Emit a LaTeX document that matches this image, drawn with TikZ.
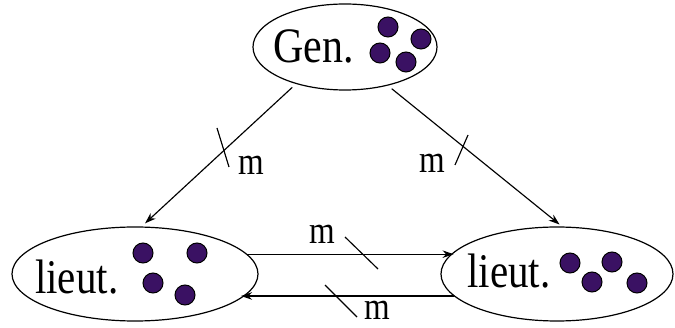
\documentclass[tikz,border=0pt]{standalone}
\usepackage{fontspec}
\setmainfont{Liberation Serif}
\usetikzlibrary{shapes.geometric,arrows.meta}
\definecolor{dotpurple}{HTML}{3A1163}
\tikzset{
  oval/.style={ellipse, draw=black, line width=1.2pt, inner sep=0pt},
  arr/.style={draw=black, line width=1.15pt, -{Stealth[length=11pt,width=7.5pt,inset=3.5pt]}},
  tick/.style={draw=black, line width=1.15pt},
  bigtxt/.style={anchor=base west, inner sep=0pt, font=\fontsize{41}{41}\selectfont},
  gentxt/.style={anchor=base west, inner sep=0pt, font=\fontsize{42}{42}\selectfont},
  mtxt/.style={anchor=base west, inner sep=0pt, font=\fontsize{33}{33}\selectfont},
  dot/.style={fill=dotpurple, draw=black, line width=1pt}
}
\newcommand{\vs}[1]{\scalebox{1}[1.18]{#1}}
\begin{document}
\begin{tikzpicture}[x=1pt,y=-1pt]
\useasboundingbox (0,0) rectangle (675,328);
% ellipses
\node[oval, minimum width=184pt, minimum height=86pt] (gen) at (345,47) {};
\node[oval, minimum width=246pt, minimum height=94pt] (l1) at (135,274) {};
\node[oval, minimum width=232pt, minimum height=94pt] (l2) at (557,274) {};
% texts
\node[gentxt] (tgen) at (273,63) {\vs{Gen.}};
\node[bigtxt] (tl1) at (35,294) {\vs{lieut.}};
\node[bigtxt] (tl2) at (467,288) {\vs{lieut.}};
% dots
\foreach \p in {(388,27),(421,39),(380,53),(406,62)} \draw[dot] \p circle (10);
\foreach \p in {(143,253),(197,253),(153,283),(185,295)} \draw[dot] \p circle (10);
\foreach \p in {(570,263),(612,262),(592,282),(637,283)} \draw[dot] \p circle (10);
% connectors
\draw[arr, shorten <=5pt, shorten >=4.6pt] (gen.217.2) -- (l1.82);
\draw[arr, shorten <=4.9pt, shorten >=3.1pt] (gen.318.7) -- (l2.84.65);
\draw[arr] (l1.10.8) -- (l1.10.8 -| l2.168.56);
\draw[arr] (l2.192.8) -- (l2.192.8 -| l1.347.9);
% ticks
\draw[tick] (217,128) -- (229,167);
\draw[tick] (468,135) -- (455,165);
\draw[tick] (345,237) -- (378,269);
\draw[tick] (325,285) -- (357,317);
% labels
\node[mtxt] (m1) at (238,175) {\vs{m}};
\node[mtxt] (m2) at (419,173) {\vs{m}};
\node[mtxt] (m3) at (309,244) {\vs{m}};
\node[mtxt] (m4) at (364,320) {\vs{m}};
\end{tikzpicture}
\end{document}
